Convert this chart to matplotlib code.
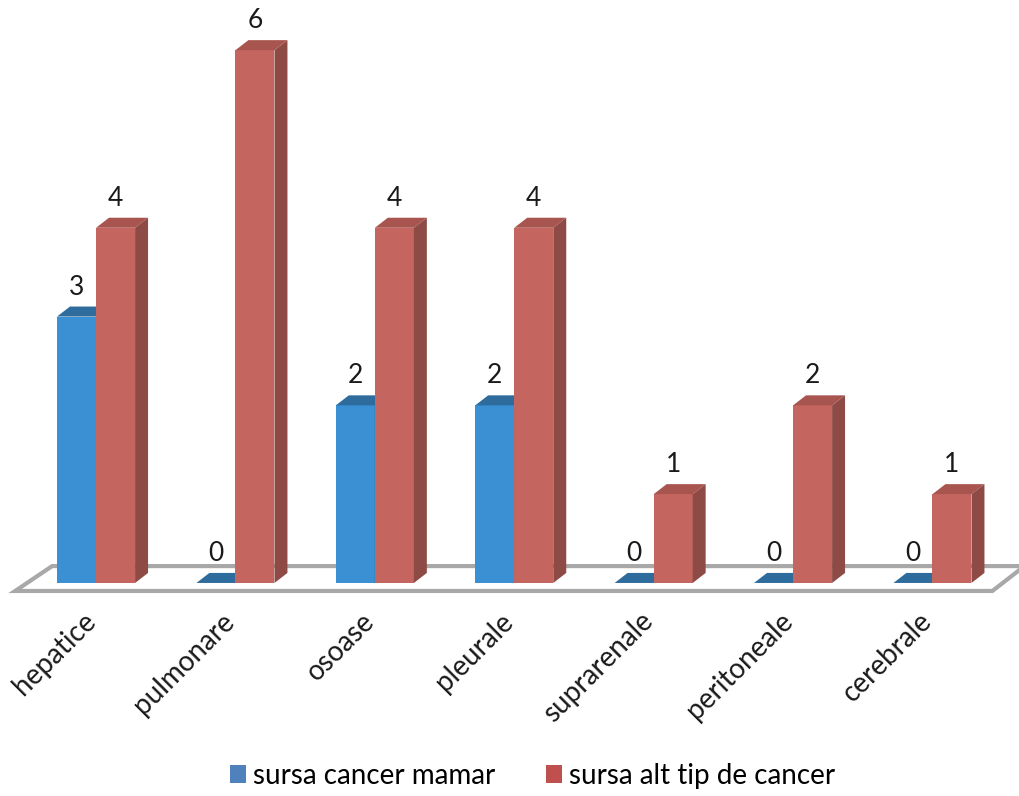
import matplotlib
matplotlib.use("Agg")
import matplotlib.pyplot as plt
from matplotlib.patches import Polygon, Patch
import numpy as np

categories = ["hepatice", "pulmonare", "osoase", "pleurale",
              "suprarenale", "peritoneale", "cerebrale"]
mamar = [3, 0, 2, 2, 0, 0, 0]
alt_tip = [4, 6, 4, 4, 1, 2, 1]
series_names = ["sursa cancer mamar", "sursa alt tip de cancer"]

FONT = "Lato"
W = 0.28                 # bar width (category units)
DX, DY = 0.093, 0.113    # depth offset of the 3d look
# front / top / side colours for each series
BLUE = ("#3b8fd3", "#2e6c9e", "#2a5f8c")
RED = ("#c4665f", "#a9554f", "#8e4a45")


def bar3d(ax, x0, h, cols):
    front, top, side = cols
    ax.add_patch(Polygon([(x0, 0), (x0 + W, 0), (x0 + W, h), (x0, h)],
                         closed=True, fc=front, ec="none", zorder=3))
    ax.add_patch(Polygon([(x0, h), (x0 + W, h), (x0 + W + DX, h + DY), (x0 + DX, h + DY)],
                         closed=True, fc=top, ec="none", zorder=3))
    if h > 0:
        ax.add_patch(Polygon([(x0 + W, 0), (x0 + W + DX, DY), (x0 + W + DX, h + DY), (x0 + W, h)],
                             closed=True, fc=side, ec="none", zorder=3))


fig = plt.figure(figsize=(10.2, 7.96), dpi=100)
ax = fig.add_axes([0, 0, 1, 1])
ax.set_xlim(-0.689, 6.628)
ax.set_ylim(-2.399, 6.565)
ax.axis("off")

# floor
floor = [(-0.58, -0.09), (6.43, -0.09), (6.66, 0.19), (-0.315, 0.19)]
ax.add_patch(Polygon(floor, closed=True, fc="white", ec="#a8a8a8", lw=3, zorder=1))

x = np.arange(len(categories))
for i in x:
    bar3d(ax, i - W, mamar[i], BLUE)
    bar3d(ax, i, alt_tip[i], RED)
    ax.text(i - W / 2, mamar[i] + 0.19, str(mamar[i]), ha="center", va="bottom",
            fontsize=19, family=FONT, color="#1a1a1a", zorder=5)
    ax.text(i + W / 2, alt_tip[i] + 0.19, str(alt_tip[i]), ha="center", va="bottom",
            fontsize=19, family=FONT, color="#1a1a1a", zorder=5)
    ax.text(i - 0.1, -0.28, categories[i], rotation=45, rotation_mode="anchor",
            ha="right", va="top", fontsize=20, family=FONT, color="#1a1a1a")

handles = [Patch(fc="#4f81bd", ec="none"), Patch(fc="#c0504d", ec="none")]
fig.legend(handles, series_names, loc="lower center", bbox_to_anchor=(0.522, -0.022),
           ncol=2, frameon=False, prop={"family": FONT, "size": 20},
           handlelength=0.6, handleheight=0.6, handletextpad=0.25, columnspacing=1.8)

fig.savefig("out.png", dpi=100, facecolor="white")
